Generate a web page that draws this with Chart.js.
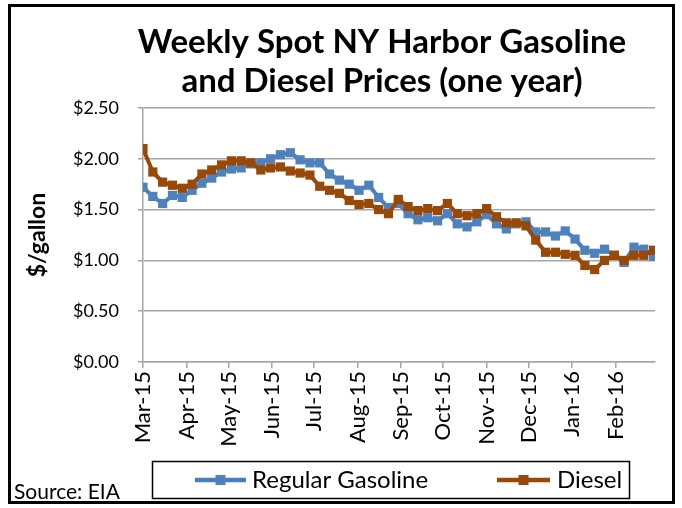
<!DOCTYPE html>
<html><head><meta charset="utf-8">
<script src="https://cdn.jsdelivr.net/npm/chart.js@4.4.1/dist/chart.umd.min.js"></script>
<style>html,body{margin:0;padding:0;background:#fff;}canvas{display:block;}</style>
</head><body>
<canvas id="c" width="682" height="508"></canvas>
<script>
const titleLines = ["Weekly Spot NY Harbor Gasoline", "and Diesel Prices (one year)"];
const yAxisTitle = "$/gallon";
const sourceNote = "Source: EIA";
const seriesNames = ["Regular Gasoline", "Diesel"];

const weekDates = [
  "2015-03-01","2015-03-08","2015-03-15","2015-03-22","2015-03-29",
  "2015-04-05","2015-04-12","2015-04-19","2015-04-26",
  "2015-05-03","2015-05-10","2015-05-17","2015-05-24","2015-05-31",
  "2015-06-07","2015-06-14","2015-06-21","2015-06-28",
  "2015-07-05","2015-07-12","2015-07-19","2015-07-26",
  "2015-08-02","2015-08-09","2015-08-16","2015-08-23","2015-08-30",
  "2015-09-06","2015-09-13","2015-09-20","2015-09-27",
  "2015-10-04","2015-10-11","2015-10-18","2015-10-25",
  "2015-11-01","2015-11-08","2015-11-15","2015-11-22","2015-11-29",
  "2015-12-06","2015-12-13","2015-12-20","2015-12-27",
  "2016-01-03","2016-01-10","2016-01-17","2016-01-24","2016-01-31",
  "2016-02-07","2016-02-14","2016-02-21","2016-02-28"
];
const gasolinePrices = [
  1.72,1.63,1.56,1.64,1.62,1.69,1.76,1.81,1.87,1.90,1.91,1.95,1.96,
  2.00,2.04,2.06,1.99,1.96,1.96,1.85,1.79,1.75,1.69,1.74,1.62,1.52,1.56,
  1.46,1.40,1.42,1.39,1.46,1.36,1.33,1.38,
  1.45,1.36,1.31,1.36,1.38,1.28,1.28,1.24,1.29,1.21,1.10,1.07,1.11,1.05,0.98,1.13,1.11,1.04
];
const dieselPrices = [
  2.10,1.87,1.77,1.74,1.71,1.75,1.85,1.89,1.94,1.98,1.98,1.96,1.89,
  1.91,1.92,1.88,1.86,1.84,1.73,1.69,1.66,1.59,1.55,1.56,1.50,1.46,1.60,
  1.53,1.49,1.51,1.49,1.56,1.46,1.44,1.46,
  1.51,1.43,1.37,1.37,1.34,1.20,1.08,1.08,1.06,1.05,0.95,0.91,1.00,1.05,1.00,1.05,1.05,1.10
];
const monthTickDates = ["2015-03-01","2015-04-01","2015-05-01","2015-06-01","2015-07-01","2015-08-01",
  "2015-09-01","2015-10-01","2015-11-01","2015-12-01","2016-01-01","2016-02-01"];
const monthTickLabels = ["Mar-15","Apr-15","May-15","Jun-15","Jul-15","Aug-15",
  "Sep-15","Oct-15","Nov-15","Dec-15","Jan-16","Feb-16"];
const axisStartDate = "2015-03-01";
const axisEndDate = "2016-03-01";

const gasColor = "#4A7EBB", gasMarker = "#4F81BD";
const dslColor = "#984807";
const gridColor = "#A6A6A6";
const FONT = "Lato, 'Open Sans', sans-serif";

function dayNum(s){const p=s.split("-").map(Number);return Date.UTC(p[0],p[1]-1,p[2])/86400000;}
const origin = dayNum(axisStartDate);
const toX = s => dayNum(s) - origin;

const gasData = weekDates.map((d,i)=>({x:toX(d), y:gasolinePrices[i]}));
const dslData = weekDates.map((d,i)=>({x:toX(d), y:dieselPrices[i]}));

const framePlugin = {
  id: "frame",
  beforeDraw(chart){
    const ctx = chart.ctx;
    ctx.save(); ctx.fillStyle="#fff"; ctx.fillRect(0,0,chart.width,chart.height); ctx.restore();
  },
  afterDraw(chart){
    const ctx = chart.ctx;
    ctx.save();
    // title
    ctx.fillStyle="#000"; ctx.textAlign="center"; ctx.textBaseline="middle";
    ctx.font = "bold 33px " + FONT;
    ctx.fillText(titleLines[0], 382, 42);
    ctx.fillText(titleLines[1], 382, 81);
    // source
    ctx.textAlign="left"; ctx.font = "21px " + FONT;
    ctx.fillText(sourceNote, 14, 492);
    // legend box
    ctx.strokeStyle="#000"; ctx.lineWidth=1.5;
    ctx.strokeRect(152.5,461.5,477,37);
    const ds = chart.data.datasets;
    const entries = [{x0:195,x1:246,tx:252},{x0:497,x1:550,tx:557}];
    entries.forEach((e,i)=>{
      const d = ds[i];
      ctx.strokeStyle=d.borderColor; ctx.lineWidth=4.5;
      ctx.beginPath(); ctx.moveTo(e.x0,480); ctx.lineTo(e.x1,480); ctx.stroke();
      ctx.fillStyle=d.pointBackgroundColor;
      const m=(e.x0+e.x1)/2; ctx.fillRect(m-5,475,10,10);
      ctx.fillStyle="#000"; ctx.font="24px "+FONT; ctx.textBaseline="middle";
      ctx.fillText(d.label, e.tx, 480);
    });
    // outer border
    ctx.strokeStyle="#000"; ctx.lineWidth=3;
    ctx.strokeRect(9.5,5.5,664,497);
    ctx.restore();
  }
};

new Chart(document.getElementById("c"), {
  type: "line",
  data: {
    datasets: [
      {label: seriesNames[0], data: gasData, borderColor: gasColor, backgroundColor: gasMarker,
       pointBackgroundColor: gasMarker, pointBorderColor: gasMarker, pointStyle: "rect",
       pointRadius: 6.5, pointBorderWidth: 0, borderWidth: 4, tension: 0, order: 1},
      {label: seriesNames[1], data: dslData, borderColor: dslColor, backgroundColor: dslColor,
       pointBackgroundColor: dslColor, pointBorderColor: dslColor, pointStyle: "rect",
       pointRadius: 6.5, pointBorderWidth: 0, borderWidth: 4, tension: 0, order: 0}
    ]
  },
  options: {
    responsive: false, animation: false, devicePixelRatio: 1,
    layout: {padding: {left: 10, right: 27, top: 108, bottom: 10}},
    plugins: {legend: {display: false}, title: {display: false}, tooltip: {enabled: false}},
    scales: {
      x: {
        type: "linear", min: 0, max: toX(axisEndDate) - 1,
        afterBuildTicks: s => { s.ticks = monthTickDates.map(d => ({value: toX(d)})); },
        afterFit: s => { s.height = 136; },
        grid: {drawOnChartArea: false, drawTicks: true, tickLength: 6, color: gridColor, lineWidth: 1.5},
        border: {color: gridColor, width: 1.5},
        ticks: {autoSkip: false, maxRotation: 90, minRotation: 90, padding: 3, color: "#000",
          font: {family: FONT, size: 22},
          callback: (v, i) => monthTickLabels[i]}
      },
      y: {
        min: 0, max: 2.5,
        afterFit: s => { s.width = 133; },
        grid: {color: gridColor, lineWidth: 1.5, tickLength: 5},
        border: {color: gridColor, width: 1.5},
        ticks: {stepSize: 0.5, padding: 19, color: "#000", font: {family: FONT, size: 18},
          callback: v => "$" + v.toFixed(2)},
        title: {display: true, text: yAxisTitle, color: "#000", padding: {top: 14, bottom: 0},
          font: {family: FONT, size: 23, weight: "bold"}}
      }
    }
  },
  plugins: [framePlugin]
});
</script>
</body></html>
